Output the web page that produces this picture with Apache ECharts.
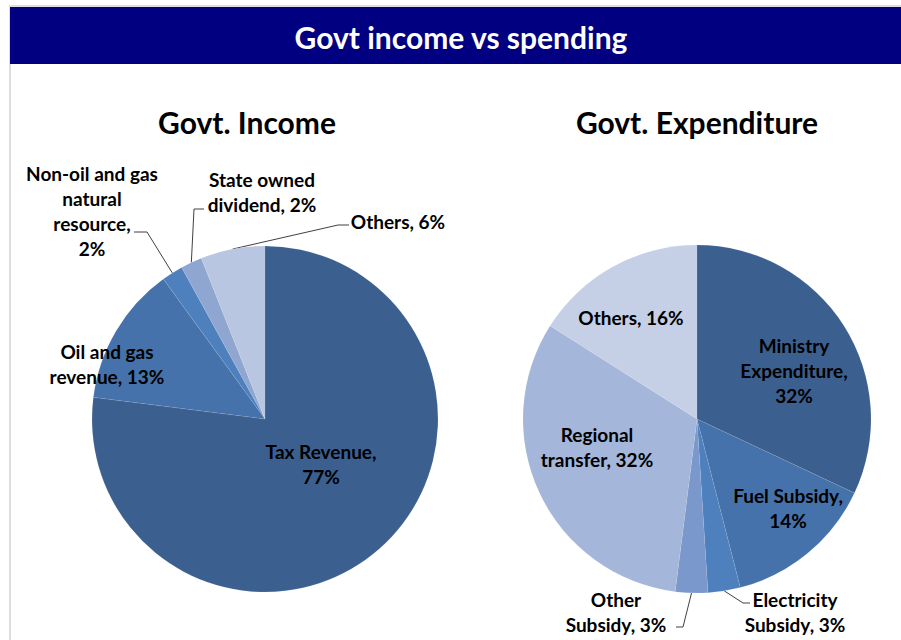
<!DOCTYPE html>
<html>
<head>
<meta charset="utf-8">
<script src="https://cdn.jsdelivr.net/npm/echarts@6/dist/echarts.min.js"></script>
<style>
  html, body { margin: 0; padding: 0; background: #ffffff; }
  #chart { width: 901px; height: 640px; }
</style>
</head>
<body>
<div id="chart"></div>
<script>
// ---- data ----
const incomeNames = ['Tax Revenue', 'Oil and gas\nrevenue', 'Non-oil and gas\nnatural\nresource', 'State owned\ndividend', 'Others'];
const incomeValues = [77, 13, 2, 2, 6];

const spendNames = ['Ministry\nExpenditure', 'Fuel Subsidy', 'Electricity\nSubsidy', 'Other\nSubsidy', 'Regional\ntransfer', 'Others'];
const spendValues = [32, 14, 3, 3, 32, 16];

// ---- styling ----
const FONT = 'Lato, "Open Sans", sans-serif';
const incomeColors = ['#3B5F8F', '#4572AA', '#4E80BE', '#8FA6D1', '#B9C6E1'];
const spendColors = ['#3B5F8F', '#4572AA', '#4E80BE', '#7B98CC', '#A4B6D9', '#C5CFE5'];

// separator between name and percentage in each label
const incomeSep = [',\n', ', ', ',\n', ', ', ', '];
const spendSep = [',\n', ',\n', ', ', ', ', ', ', ', '];

// pie geometry
const incomeCenter = [265, 419], incomeRadius = 173;
const spendCenter = [697, 419], spendRadius = 174;

// label anchors (offsets from the pie centre); 'elbow'/'end' describe leader lines
const incomeSpots = [
  { at: [56, 45] },
  { at: [-158, -55] },
  { at: [-173, -208], elbow: [-118, -187], end: [-131, -187] },
  { at: [-3, -227], elbow: [-71, -210], end: [-61, -210] },
  { at: [133, -198], elbow: [73, -194], end: [84, -194] }
];
const spendSpots = [
  { at: [97, -49] },
  { at: [91, 89] },
  { at: [98, 193], elbow: [46, 184], end: [53, 184] },
  { at: [-81, 193], elbow: [-14, 208], end: [-21, 208] },
  { at: [-100, 28] },
  { at: [-66, -102] }
];

function pt(p) { return Array.isArray(p) ? [p[0], p[1]] : [p.x, p.y]; }

function placeLabels(center, spots) {
  return function (p) {
    const s = spots[p.dataIndex];
    const out = {
      x: center[0] + s.at[0],
      y: center[1] + s.at[1],
      align: 'center',
      verticalAlign: 'middle'
    };
    if (s.elbow && p.labelLinePoints && p.labelLinePoints.length) {
      out.labelLinePoints = [
        pt(p.labelLinePoints[0]),
        [center[0] + s.elbow[0], center[1] + s.elbow[1]],
        [center[0] + s.end[0], center[1] + s.end[1]]
      ];
    }
    return out;
  };
}

function buildData(names, values, colors, spots) {
  return names.map(function (n, i) {
    const leader = !!spots[i].elbow;
    return {
      name: n,
      value: values[i],
      itemStyle: { color: colors[i] },
      label: { position: leader ? 'outside' : 'inside' },
      labelLine: { show: leader }
    };
  });
}

function pieSeries(names, values, colors, sep, center, radius, spots) {
  return {
    type: 'pie',
    center: center,
    radius: radius,
    startAngle: 90,
    clockwise: true,
    avoidLabelOverlap: false,
    emphasis: { disabled: true },
    itemStyle: { borderColor: 'rgba(255,255,255,0.2)', borderWidth: 0.4 },
    label: {
      color: '#000000',
      fontFamily: FONT,
      fontWeight: 'bold',
      fontSize: 19,
      lineHeight: 25,
      textBorderWidth: 0,
      align: 'center',
      formatter: function (p) { return p.name + sep[p.dataIndex] + p.value + '%'; }
    },
    labelLine: {
      show: true,
      length: 20,
      length2: 10,
      lineStyle: { color: '#404040', width: 1 }
    },
    labelLayout: placeLabels(center, spots),
    data: buildData(names, values, colors, spots)
  };
}

const chart = echarts.init(document.getElementById('chart'), null, { renderer: 'svg' });

chart.setOption({
  animation: false,
  backgroundColor: '#ffffff',
  graphic: [
    { type: 'rect', shape: { x: 10, y: 6, width: 1000, height: 1000 },
      style: { fill: '#ffffff', stroke: '#dedede', lineWidth: 2 }, z: -10 },
    { type: 'rect', shape: { x: 10, y: 7, width: 891, height: 57 },
      style: { fill: '#000080' }, z: -5 }
  ],
  title: [
    { text: 'Govt income vs spending', left: 461, top: 22, textAlign: 'center', padding: 0,
      textStyle: { color: '#ffffff', fontFamily: FONT, fontWeight: 'bold', fontSize: 30 } },
    { text: 'Govt. Income', left: 247, top: 107, textAlign: 'center', padding: 0,
      textStyle: { color: '#000000', fontFamily: FONT, fontWeight: 'bold', fontSize: 30 } },
    { text: 'Govt. Expenditure', left: 697, top: 107, textAlign: 'center', padding: 0,
      textStyle: { color: '#000000', fontFamily: FONT, fontWeight: 'bold', fontSize: 30 } }
  ],
  series: [
    pieSeries(incomeNames, incomeValues, incomeColors, incomeSep, incomeCenter, incomeRadius, incomeSpots),
    pieSeries(spendNames, spendValues, spendColors, spendSep, spendCenter, spendRadius, spendSpots)
  ]
});
</script>
</body>
</html>
